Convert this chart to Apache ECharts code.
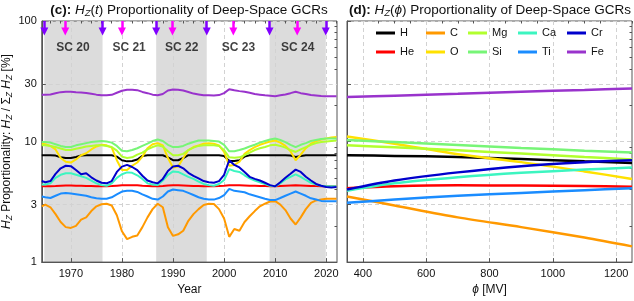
<!DOCTYPE html>
<html><head><meta charset="utf-8">
<script src="https://cdn.jsdelivr.net/npm/echarts@6/dist/echarts.min.js"></script>
<style>html,body{margin:0;padding:0;background:#fff}#c{width:634px;height:301px}</style>
</head><body><div id="c"></div>
<script>
// ---------- data: panel (c), yearly readings ----------
const years = [1964.3,1965,1966,1967,1968,1969,1970,1971,1972,1973,1974,1975,1976,1977,1978,1979,1980,1981,1982,1983,1984,1985,1986,1987,1988,1989,1990,1991,1992,1993,1994,1995,1996,1997,1998,1999,2000,2001,2002,2003,2004,2005,2006,2007,2008,2009,2010,2011,2012,2013,2014,2015,2016,2017,2018,2019,2020,2021,2022];
const H_t  = [7.7,7.7,7.7,7.65,7.4,7.3,7.3,7.45,7.65,7.7, 7.7,7.7,7.7,7.7,7.7,7.5,7.0,6.85,6.9,7.1, 7.6,7.7,7.7,7.7,7.7,7.4,7.0,7.0,7.3,7.7, 7.7,7.7,7.7,7.7,7.7,7.7,7.6,6.9,6.9,7.0, 7.5,7.7,7.7,7.7,7.7,7.7,7.7,7.7,7.7,7.65, 7.45,7.6,7.7,7.7,7.7,7.7,7.7,7.7,7.7];
const He_t = [4.25,4.25,4.25,4.27,4.3,4.32,4.32,4.3,4.3,4.28, 4.27,4.25,4.25,4.25,4.27,4.3,4.33,4.35,4.35,4.33, 4.3,4.28,4.26,4.26,4.28,4.32,4.34,4.34,4.32,4.3, 4.28,4.27,4.26,4.26,4.26,4.27,4.3,4.34,4.34,4.33, 4.32,4.3,4.29,4.28,4.27,4.26,4.26,4.28,4.3,4.32, 4.33,4.32,4.3,4.28,4.27,4.26,4.25,4.25,4.25];
const C_t  = [2.9,3.0,2.85,2.5,2.15,1.95,1.92,2.0,2.25,2.35, 2.65,2.9,3.02,3.05,2.95,2.45,1.8,1.55,1.62,1.66, 1.95,2.35,2.75,3.05,2.85,1.95,1.65,1.7,1.82,2.2, 2.5,2.75,2.98,3.05,3.03,2.75,2.3,1.62,1.88,1.82, 2.15,2.4,2.65,2.9,3.05,3.18,3.2,3.0,2.7,2.3, 2.05,2.35,2.75,3.1,3.25,3.3,3.35,3.35,3.35];
const O_t  = [9.6,9.5,9.2,8.6,7.3,6.8,6.7,7.1,7.7,8.0, 8.6,9.1,9.4,9.3,8.9,7.0,5.8,5.8,6.3,6.7, 7.5,8.8,9.5,9.7,9.3,7.3,6.1,6.2,7.3,8.5, 9.0,9.3,9.6,9.7,9.6,9.3,8.2,6.3,6.4,6.8, 7.9,8.5,9.0,9.4,9.7,10.0,10.2,9.8,9.2,8.3, 7.0,7.8,8.8,9.6,10.1,10.4,10.6,10.8,10.9];
const Mg_t = [9.3,9.3,9.2,9.0,8.75,8.5,8.5,8.7,8.9,9.1, 9.2,9.3,9.3,9.2,9.0,8.4,7.5,7.3,7.4,7.8, 8.1,8.6,9.0,9.3,9.1,8.3,7.7,7.7,7.9,8.5, 8.9,9.2,9.3,9.3,9.3,9.2,8.5,7.4,7.35,7.4, 7.7,8.1,8.5,8.8,9.0,9.3,9.4,9.2,8.9,8.5, 8.2,8.6,9.0,9.4,9.7,9.9,10.0,10.1,10.2];
const Si_t = [9.9,9.9,9.8,9.5,9.2,9.0,9.0,9.3,9.5,9.7, 9.9,10.0,10.1,10.0,9.8,9.2,8.4,8.3,8.5,8.8, 9.2,9.6,10.1,10.4,10.1,9.4,9.0,9.0,9.2,9.6, 9.9,10.2,10.2,10.2,10.1,10.0,9.4,8.3,8.3,8.5, 8.75,9.1,9.4,9.8,10.1,10.4,10.6,10.3,9.9,9.4, 9.0,9.4,9.7,10.1,10.3,10.5,10.6,10.6,10.6];
const Ca_t = [4.4,4.4,4.5,5.0,5.3,5.45,5.45,5.3,5.15,5.0, 4.75,4.5,4.35,4.3,4.5,5.0,5.35,5.55,5.5,5.25, 4.9,4.5,4.4,4.35,4.75,5.3,5.65,5.6,5.35,5.1, 4.9,4.65,4.45,4.35,4.3,4.45,4.8,5.9,5.7,5.6, 5.25,4.95,4.75,4.6,4.45,4.3,4.25,4.5,4.85,5.1, 5.35,5.1,4.8,4.55,4.4,4.3,4.25,4.25,4.25];
const Ti_t = [3.5,3.45,3.4,3.55,3.7,3.75,3.7,3.65,3.6,3.55, 3.45,3.38,3.35,3.35,3.45,3.65,3.85,3.9,3.9,3.82, 3.65,3.5,3.35,3.3,3.5,3.85,4.0,3.95,3.9,3.75, 3.6,3.45,3.35,3.3,3.3,3.4,3.6,4.05,3.9,3.85, 3.8,3.65,3.55,3.45,3.35,3.27,3.27,3.4,3.55,3.7, 3.85,3.7,3.55,3.38,3.3,3.22,3.2,3.2,3.2];
const Cr_t = [4.7,4.6,4.7,5.4,6.0,6.3,6.25,5.8,5.35,5.45, 5.05,4.75,4.55,4.5,4.7,5.6,6.2,6.4,6.15,5.8, 5.2,4.75,4.6,4.5,4.9,5.7,6.2,6.3,6.0,5.5, 5.2,4.95,4.7,4.6,4.55,4.7,5.3,7.0,6.4,6.1, 5.6,5.1,4.9,4.75,4.55,4.35,4.25,4.6,5.0,5.4, 5.85,5.6,5.1,4.75,4.45,4.3,4.2,4.15,4.2];
const Fe_t = [24.4,24.4,24.6,25.2,25.7,25.9,25.9,25.6,25.5,25.3, 24.9,24.5,24.2,24.2,24.4,25.4,26.4,26.9,26.9,26.7, 25.8,25.2,24.5,24.2,24.8,26.5,27.0,26.9,26.5,25.8, 25.0,24.6,24.2,24.2,24.1,24.3,25.2,27.2,26.6,26.2, 25.9,25.4,24.8,24.5,24.2,24.0,23.8,24.2,24.6,25.2, 25.9,25.2,24.8,24.3,24.1,23.9,23.8,23.8,23.8];

// ---------- data: panel (d), modulation potential ----------
const phi  = [350, 500, 700, 900, 1100, 1250];
const H_p  = [7.7, 7.6, 7.45, 7.15, 6.85, 6.65];
const He_p = [4.1, 4.25, 4.33, 4.32, 4.27, 4.22];
const C_p  = [3.5, 2.95, 2.35, 1.95, 1.6, 1.35];
const O_p  = [11.0, 9.6, 7.85, 6.75, 5.65, 4.9];
const Mg_p = [9.3, 8.95, 8.45, 7.95, 7.45, 7.1];
const Si_p = [10.3, 9.9, 9.35, 8.85, 8.4, 8.1];
const Ca_p = [3.9, 4.5, 5.05, 5.5, 5.85, 6.1];
const Ti_p = [3.1, 3.3, 3.55, 3.75, 3.95, 4.1];
const Cr_p = [4.0, 4.75, 5.55, 6.25, 6.75, 7.0];
const Fe_p = [23.4, 24.0, 24.9, 25.9, 26.8, 27.5];

const elements = ['H','He','C','O','Mg','Si','Ca','Ti','Cr','Fe'];
const seriesT = {H:H_t, He:He_t, C:C_t, O:O_t, Mg:Mg_t, Si:Si_t, Ca:Ca_t, Ti:Ti_t, Cr:Cr_t, Fe:Fe_t};
const seriesP = {H:H_p, He:He_p, C:C_p, O:O_p, Mg:Mg_p, Si:Si_p, Ca:Ca_p, Ti:Ti_p, Cr:Cr_p, Fe:Fe_p};

// ---------- solar cycle annotations ----------
const cycleMinima = [1964.8, 1976.2, 1986.7, 1996.6, 2008.9, 2019.9];
const cycleMaxima = [1968.9, 1980.0, 1989.9, 2001.8, 2014.3];
const shadedCycles = [[1964.8, 1976.2], [1986.7, 1996.6], [2008.9, 2019.9]];
const cycleLabels = ['SC 20', 'SC 21', 'SC 22', 'SC 23', 'SC 24'];
const cycleLabelYears = [1970.4, 1981.4, 1991.7, 2002.8, 2014.4];
const cycleLabelLevel = 60;
const arrowTop = 100, arrowTip = 82;

// ---------- ticks ----------
const yearTicks = [1970, 1980, 1990, 2000, 2010, 2020];
const yearMinorTicks = [1966,1968,1972,1974,1976,1978,1982,1984,1986,1988,1992,1994,1996,1998,2002,2004,2006,2008,2012,2014,2016,2018,2022];
const phiTicks = [400, 600, 800, 1000, 1200];
const phiMinorTicks = [350,450,500,550,650,700,750,850,900,950,1050,1100,1150,1250];
const yTicks = [1, 3, 10, 30, 100];
const yMinorTicks = [2,4,5,6,7,8,9,20,40,50,60,70,80,90];
const yMin = 1, yMax = 100.001;

const colors = {H:'#000000', He:'#ff0000', C:'#ff9900', O:'#ffe100', Mg:'#b2ff2e', Si:'#77f577', Ca:'#3cf5c0', Ti:'#1a8cff', Cr:'#0000cc', Fe:'#9933cc'};

const FONT = '"Liberation Sans", Arial, Helvetica, sans-serif';
const AX = '#555555';
const GRIDC = '#d2d2d2';
const plain = v => String(Math.round(v * 100) / 100);

function mainX(grid, min, max, ticks, name) {
  return {type:'value', gridIndex:grid, min:min, max:max,
    axisLine:{show:true, onZero:false, lineStyle:{color:AX, width:1}},
    axisTick:{show:true, inside:true, length:4, customValues:ticks, lineStyle:{color:AX}},
    axisLabel:{customValues:ticks, formatter:plain, showMinLabel:true, showMaxLabel:true, fontSize:11, color:'#111', margin:6, fontFamily:FONT},
    splitLine:{show:true, lineStyle:{color:GRIDC, type:[4,3], width:1}},
    name:name, nameLocation:'middle', nameGap:19,
    nameTextStyle:{fontSize:12, color:'#111', fontFamily:FONT,
      rich:{i:{fontStyle:'italic', fontSize:12, color:'#111', fontFamily:FONT}, n:{fontSize:12, color:'#111', fontFamily:FONT}}}
  };
}
function minorX(grid, min, max, ticks) {
  return {type:'value', gridIndex:grid, min:min, max:max,
    axisLine:{show:false}, axisLabel:{show:false}, splitLine:{show:false},
    axisTick:{show:true, inside:true, length:2.5, customValues:ticks, lineStyle:{color:AX}}};
}
function mainY(grid, showLabels, name) {
  const a = {type:'log', logBase:10, gridIndex:grid, min:yMin, max:yMax,
    axisLine:{show:true, onZero:false, lineStyle:{color:AX, width:1}},
    axisTick:{show:true, inside:true, length:4, customValues:yTicks, lineStyle:{color:AX}},
    axisLabel:{show:showLabels, customValues:yTicks, formatter:v => String(Math.round(v)), showMinLabel:true, showMaxLabel:true, hideOverlap:false, fontSize:11, color:'#111', margin:5, fontFamily:FONT},
    splitLine:{show:true, lineStyle:{color:GRIDC, type:[4,3], width:1}}};
  if (name) {
    a.name = name; a.nameLocation = 'middle'; a.nameRotate = 90; a.nameGap = 24;
    const base = {fontSize:12, color:'#111', fontFamily:FONT, lineHeight:15};
    a.nameTextStyle = {fontSize:12, color:'#111', fontFamily:FONT, rich:{
      n: base,
      i: Object.assign({}, base, {fontStyle:'italic'}),
      s: {fontSize:8.5, lineHeight:9, fontStyle:'italic', color:'#111', fontFamily:FONT, verticalAlign:'bottom'}
    }};
  }
  return a;
}
function minorY(grid) {
  return {type:'log', logBase:10, gridIndex:grid, min:yMin, max:yMax,
    axisLine:{show:false}, axisLabel:{show:false}, splitLine:{show:false},
    axisTick:{show:true, inside:true, length:2.5, customValues:yMinorTicks, lineStyle:{color:AX}}};
}

const series = [];
series.push({
  name:'_sc', type:'scatter', xAxisIndex:0, yAxisIndex:0, silent:true,
  symbol:'circle', symbolSize:1, itemStyle:{color:'rgba(0,0,0,0)'},
  data: cycleLabels.map((n,i)=>({name:n, value:[cycleLabelYears[i], cycleLabelLevel]})),
  label:{show:true, position:'inside', formatter:'{b}', fontSize:12, fontWeight:'bold', color:'#111', fontFamily:FONT},
  markArea:{silent:true, z:-1, itemStyle:{color:'#dcdcdc'},
    data: shadedCycles.map(c=>[{xAxis:c[0]},{xAxis:c[1]}])},
  z:3
});
elements.forEach(el => {
  series.push({name:el, type:'line', xAxisIndex:0, yAxisIndex:0, showSymbol:false, symbol:'none',
    data: years.map((y,i)=>[y, seriesT[el][i]]),
    lineStyle:{width:2, color:colors[el]}, itemStyle:{color:colors[el]}, z:4});
});
elements.forEach(el => {
  series.push({name:el, type:'line', xAxisIndex:2, yAxisIndex:2, showSymbol:false, symbol:'none', smooth:0.3,
    data: phi.map((p,i)=>[p, seriesP[el][i]]),
    lineStyle:{width:2.5, color:colors[el]}, itemStyle:{color:colors[el]}, z:4});
});
function arrows(list, col) {
  return {name:'_arr'+col, type:'line', xAxisIndex:0, yAxisIndex:0, data:[], silent:true,
    markLine:{silent:true, z:20, symbol:['none','triangle'], symbolSize:8, label:{show:false},
      lineStyle:{color:col, width:2.5, type:'solid'},
      emphasis:{disabled:true},
      data: list.map(x=>[{coord:[x, arrowTop]}, {coord:[x, arrowTip]}])}};
}
series.push(arrows(cycleMinima, '#8000ff'));
series.push(arrows(cycleMaxima, '#ff00ff'));

const legendCols = [['H','He'],['C','O'],['Mg','Si'],['Ca','Ti'],['Cr','Fe']];
const legendLeft = [376, 426, 468, 518, 567];

const titleRich = {
  b:{fontWeight:'bold', fontSize:13.5, fontFamily:FONT, fill:'#111', lineHeight:17},
  n:{fontSize:13.5, fontFamily:FONT, fill:'#111', lineHeight:17},
  i:{fontSize:13.5, fontStyle:'italic', fontFamily:FONT, fill:'#111', lineHeight:17},
  s:{fontSize:9.5, fontStyle:'italic', fontFamily:FONT, fill:'#111', lineHeight:10, verticalAlign:'bottom'}
};

const option = {
  animation:false,
  textStyle:{fontFamily:FONT},
  grid:[
    {left:41, right:297, top:21, bottom:33, show:true, borderColor:AX, borderWidth:1, backgroundColor:'rgba(0,0,0,0)'},
    {left:347, right:2, top:21, bottom:33, show:true, borderColor:AX, borderWidth:1, backgroundColor:'rgba(0,0,0,0)'}
  ],
  xAxis:[
    mainX(0, 1964.3, 2022.1, yearTicks, 'Year'),
    minorX(0, 1964.3, 2022.1, yearMinorTicks),
    mainX(1, 350, 1250, phiTicks, '{i|ϕ}{n| [MV]}'),
    minorX(1, 350, 1250, phiMinorTicks)
  ],
  yAxis:[
    mainY(0, true, '{i|H}{s|Z}{n| Proportionality: }{i|H}{s|Z}{n| / Σ}{s|Z}{n| }{i|H}{s|Z}{n| [%]}'),
    minorY(0),
    mainY(1, false, null),
    minorY(1)
  ],
  legend: legendCols.map((d,i)=>({data:d, orient:'vertical', left:legendLeft[i], top:26, padding:0,
    itemWidth:19, itemHeight:3, itemGap:5, icon:'rect', selectedMode:false,
    textStyle:{fontSize:11, lineHeight:14, color:'#111', fontFamily:FONT}})),
  graphic:[
    {type:'text', x:189, y:10, silent:true, style:{text:'{b|(c):} {i|H}{s|Z}{n|(}{i|t}{n|) Proportionality of Deep-Space GCRs}', rich:titleRich, align:'center', verticalAlign:'middle', fontSize:13.5, fontFamily:FONT, fill:'#111'}},
    {type:'text', x:490, y:10, silent:true, style:{text:'{b|(d):} {i|H}{s|Z}{n|(}{i|ϕ}{n|) Proportionality of Deep-Space GCRs}', rich:titleRich, align:'center', verticalAlign:'middle', fontSize:13.5, fontFamily:FONT, fill:'#111'}}
  ],
  series: series
};
const chart = echarts.init(document.getElementById('c'), null, {renderer:'canvas'});
chart.setOption(option);
</script>
</body></html>
